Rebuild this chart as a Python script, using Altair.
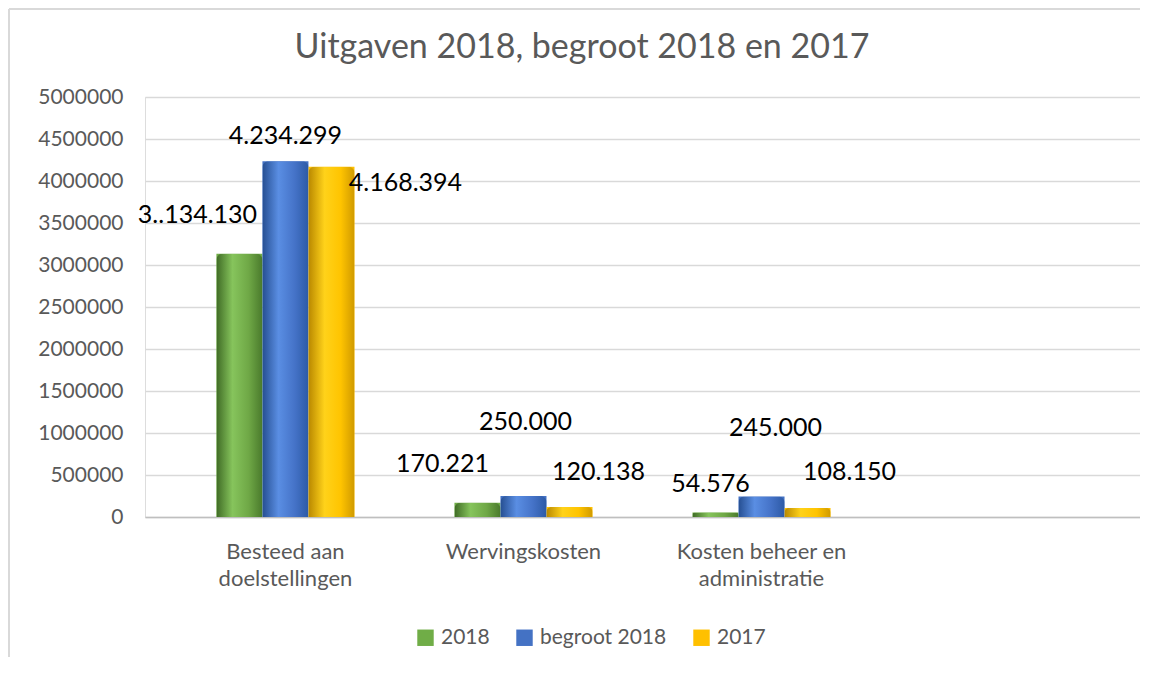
import altair as alt
import pandas as pd

title_text = "Uitgaven 2018, begroot 2018 en 2017"
categories = ["Besteed aan|doelstellingen", "Wervingskosten", "Kosten beheer en|administratie"]
series = ["2018", "begroot 2018", "2017"]
values_2018 = [3134130, 170221, 54576]
values_begroot = [4234299, 250000, 245000]
values_2017 = [4168394, 120138, 108150]
labels_2018 = ["3..134.130", "170.221", "54.576"]
labels_begroot = ["4.234.299", "250.000", "245.000"]
labels_2017 = ["4.168.394", "120.138", "108.150"]
y_ticks = [0, 500000, 1000000, 1500000, 2000000, 2500000, 3000000, 3500000, 4000000, 4500000, 5000000]

colors = ["#70ad47", "#4472c4", "#ffc000"]
gradients = [
    ["#3f6b25", "#86c45c", "#6fa846", "#4a7a2c"],
    ["#264f92", "#5a8ee3", "#4573c8", "#2d5aa6"],
    ["#b98800", "#ffd21a", "#ffc400", "#d09a00"],
]
# label offsets (dx, dy) in pixels relative to the bar top, per series per category
offsets = [
    [(-42, -39), (-35, -39), (-5, -28)],
    [(0, -25), (2, -74), (14, -68)],
    [(74, 16), (29, -35), (42, -36)],
]

rows = []
for s, vals, labs in zip(series, [values_2018, values_begroot, values_2017],
                         [labels_2018, labels_begroot, labels_2017]):
    for c, v, l in zip(categories, vals, labs):
        rows.append({"cat": c, "series": s, "value": v, "label": l})
df = pd.DataFrame(rows)

x_domain = categories + [" "]
FONT = "Lato"
GREY = "#595959"

x_enc = alt.X("cat:N", scale=alt.Scale(domain=x_domain, paddingInner=0.42, paddingOuter=0.3),
              sort=x_domain,
              axis=alt.Axis(title=None, labelExpr="split(datum.label, '|')", labelAngle=0,
                            labelFontSize=22, labelColor=GREY, labelFont=FONT,
                            labelPadding=24, labelLineHeight=27, ticks=False,
                            domainColor="#bfbfbf", domainWidth=1.5, grid=False))
xo_enc = alt.XOffset("series:N", scale=alt.Scale(domain=series), sort=series)
y_enc = alt.Y("value:Q", scale=alt.Scale(domain=[0, 5000000]),
              axis=alt.Axis(title=None, values=y_ticks, format="d", labelFontSize=21,
                            labelColor=GREY, labelFont=FONT, labelPadding=22,
                            ticks=False, domain=False, gridColor="#d9d9d9", gridWidth=1.5))

base = alt.Chart(df).encode(x=x_enc, xOffset=xo_enc, y=y_enc)

legend_bars = base.mark_bar().encode(
    color=alt.Color("series:N", scale=alt.Scale(domain=series, range=colors),
                    legend=alt.Legend(title=None, orient="none", direction="horizontal",
                                      legendX=270, legendY=530,
                                      symbolType="square", symbolSize=270, labelFontSize=21,
                                      labelColor=GREY, labelFont=FONT, columnPadding=24,
                                      labelOffset=5, symbolStrokeWidth=0))
)

layers = [legend_bars]
for s, g in zip(series, gradients):
    grad = alt.LinearGradient(gradient="linear", x1=0, x2=1, y1=0, y2=0,
                              stops=[alt.GradientStop(color=g[0], offset=0),
                                     alt.GradientStop(color=g[1], offset=0.35),
                                     alt.GradientStop(color=g[2], offset=0.7),
                                     alt.GradientStop(color=g[3], offset=1)])
    layers.append(base.mark_bar(fill=grad, cornerRadiusTopLeft=6, cornerRadiusTopRight=6)
                  .transform_filter(alt.datum.series == s))

for si, s in enumerate(series):
    for ci, c in enumerate(categories):
        dx, dy = offsets[si][ci]
        layers.append(
            base.mark_text(fontSize=25, font=FONT, color="#000000", dx=dx, dy=dy,
                           baseline="middle", align="center")
            .encode(text="label:N")
            .transform_filter((alt.datum.series == s) & (alt.datum.cat == c))
        )

one = pd.DataFrame({"t": [title_text]})
# chart-area frame (top and left edge of the outer chart box)
frame_top = alt.Chart(one).mark_rule(color="#d9d9d9", strokeWidth=2).encode(
    x=alt.value(-136), x2=alt.value(1010), y=alt.value(-88))
frame_left = alt.Chart(one).mark_rule(color="#d9d9d9", strokeWidth=2).encode(
    x=alt.value(-136), y=alt.value(-88), y2=alt.value(600))
title_mark = alt.Chart(one).mark_text(fontSize=34, font=FONT, color=GREY,
                                      baseline="middle", align="center").encode(
    text="t:N", x=alt.value(437), y=alt.value(-49))
layers += [frame_top, frame_left, title_mark]

chart = alt.layer(*layers).properties(
    width=995, height=420,
    autosize=alt.AutoSizeParams(type="none"),
    padding={"left": 137, "top": 89, "right": 0, "bottom": 140},
).configure_view(stroke=None).configure(background="white")

chart.save("out.html", embed_options={"renderer": "svg", "actions": False})
